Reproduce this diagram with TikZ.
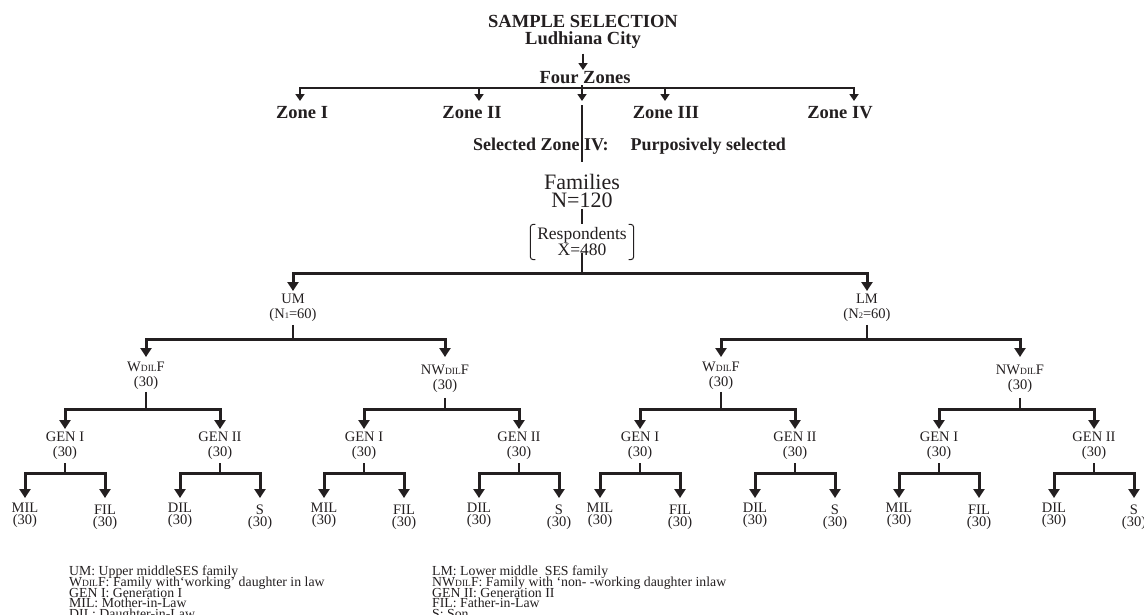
\documentclass[tikz,border=0pt]{standalone}
\usepackage{fontspec}
\setmainfont{Liberation Serif}
\usetikzlibrary{arrows.meta}
\definecolor{inkc}{RGB}{35,31,32}
\newcommand{\dilsc}{{\fontsize{9.5}{9.5}\selectfont DIL}}
\newcommand{\nsub}[1]{{\fontsize{8.5}{8.5}\selectfont #1}}
\newcommand{\tightlines}{\lineskiplimit=-100pt\lineskip=0pt}

\tikzset{
  every node/.style={text=inkc},
  head/.style={font=\bfseries\fontsize{18.5}{17}\selectfont\tightlines, align=center, inner sep=1pt},
  lab/.style={font=\fontsize{14.5}{15}\selectfont\tightlines, align=center, inner xsep=1pt, inner ysep=3pt},
  leaf/.style={font=\fontsize{14.5}{12}\selectfont\tightlines, align=center, inner xsep=1pt, inner ysep=5pt},
  arr/.style={draw=inkc, line width=3pt, -{Triangle[length=9pt,width=11pt]}},
  zarr/.style={draw=inkc, line width=2.6pt, -{Triangle[length=7pt,width=9pt]}},
  stem/.style={draw=inkc, line width=2pt},
  legend/.style={font=\fontsize{13.8}{10.6}\selectfont\tightlines, align=left, anchor=north west, inner sep=0pt}
}

\begin{document}
\begin{tikzpicture}[x=1pt, y=-1pt]
\useasboundingbox (0,0) rectangle (1144,614);

% Title and zones
\node[head, anchor=north] (title) at (583,14) {SAMPLE SELECTION\\Ludhiana City};
\node[head, anchor=north] (fourz) at (585,70) {Four Zones};
\draw[zarr, shorten <=4pt] (title.south) -- (title.south |- fourz.north);
\coordinate (zbar) at (582,88);
\draw[stem] (zbar) -- (zbar |- fourz.south);

\node[head, anchor=north, inner ysep=5pt] (z1) at (302,101) {Zone I};
\node[head, anchor=north, inner ysep=5pt] (z2) at (472,101) {Zone II};
\node[head, anchor=north, inner ysep=5pt] (z3) at (666,101) {Zone III};
\node[head, anchor=north, inner ysep=5pt] (z4) at (840,101) {Zone IV};
\draw[zarr] (zbar) -| ([xshift=-2pt]z1.north);
\draw[zarr] (zbar) -| ([xshift=7pt]z2.north);
\draw[zarr] (zbar) -| ([xshift=-1pt]z3.north);
\draw[zarr] (zbar) -| ([xshift=14pt]z4.north);
\coordinate (ztip) at (582,101);
\draw[zarr] (zbar) -- (ztip);

% Selected zone and sample
\node[head, font=\bfseries\fontsize{18}{17}\selectfont, anchor=west] (selz) at (472,146)
  {Selected Zone IV:\hspace{22pt}Purposively selected};
\node[font=\fontsize{22}{18}\selectfont\tightlines, align=center, anchor=north, inner sep=1pt] (fam) at (582,173)
  {Families\\N=120};
\draw[stem, shorten >=11pt] ([yshift=-4pt]ztip) -- (ztip |- fam.north);
\node[font=\fontsize{17.5}{16}\selectfont\tightlines, align=center, inner sep=0pt,
  minimum width=103pt, minimum height=35pt] (resp) at (582,242) {Respondents\\X=480};
\draw[inkc, line width=1pt, rounded corners=3pt]
  ([xshift=5pt]resp.north west) -- (resp.north west) -- (resp.south west) -- ([xshift=5pt]resp.south west);
\draw[inkc, line width=1pt, rounded corners=3pt]
  ([xshift=-5pt]resp.north east) -- (resp.north east) -- (resp.south east) -- ([xshift=-5pt]resp.south east);
\draw[stem] (fam.south) -- (resp.north);

% UM / LM
\node[lab, anchor=north] (um) at (293,291) {UM\\(N\nsub{1}=60)};
\node[lab, anchor=north] (lm) at (867,291) {LM\\(N\nsub{2}=60)};
\coordinate (rbar) at (582,273);
\draw[stem] ([yshift=-11pt]resp.center) -- (rbar);
\draw[arr] (rbar) -| (um.north);
\draw[arr] (rbar) -| (lm.north);

% Working / non-working families
\node[lab, anchor=north, inner ysep=5pt] (wu) at (146,357) {W\dilsc F\\(30)};
\node[lab, anchor=north, inner ysep=8pt] (nwu) at (445,357) {NW\dilsc F\\(30)};
\node[lab, anchor=north, inner ysep=5pt] (wl) at (721,357) {W\dilsc F\\(30)};
\node[lab, anchor=north, inner ysep=8pt] (nwl) at (1020,357) {NW\dilsc F\\(30)};
\coordinate (umb) at (293,339);
\coordinate (lmb) at (867,339);
\draw[stem] (um.south) -- (umb);
\draw[stem] (lm.south) -- (lmb);
\draw[arr] (umb) -| (wu.north);
\draw[arr] (umb) -| (nwu.north);
\draw[arr] (lmb) -| (wl.north);
\draw[arr] (lmb) -| (nwl.north);

% Generations and members
\foreach \sh/\pn in {0/wu, 299/nwu, 575/wl, 874/nwl} {
  \coordinate (\pn-b) at (146+\sh,409);
  \node[lab, anchor=north] (\pn-g1) at (65+\sh,429) {GEN I\\(30)};
  \node[lab, anchor=north] (\pn-g2) at (220+\sh,429) {GEN II\\(30)};
  \draw[stem, shorten <=-3pt] (\pn.south) -- (\pn-b);
  \draw[arr] (\pn-b) -| (\pn-g1.north);
  \draw[arr] (\pn-b) -| (\pn-g2.north);
  \coordinate (\pn-g1b) at (65+\sh,473);
  \coordinate (\pn-g2b) at (220+\sh,473);
  \node[leaf, anchor=north] (\pn-mil) at (25+\sh,498) {MIL\\(30)};
  \node[leaf, anchor=north, inner ysep=7pt] (\pn-fil) at (105+\sh,498) {FIL\\(30)};
  \node[leaf, anchor=north] (\pn-dil) at (180+\sh,498) {DIL\\(30)};
  \node[leaf, anchor=north, inner ysep=7pt] (\pn-s) at (260+\sh,498) {S\\(30)};
  \draw[stem] (\pn-g1.south) -- (\pn-g1b);
  \draw[stem] (\pn-g2.south) -- (\pn-g2b);
  \draw[arr] (\pn-g1b) -| (\pn-mil.north);
  \draw[arr] (\pn-g1b) -| (\pn-fil.north);
  \draw[arr] (\pn-g2b) -| (\pn-dil.north);
  \draw[arr] (\pn-g2b) -| (\pn-s.north);
}

% Legend
\node[legend] (keyl) at (69,566) {UM: Upper middleSES family\\
  W\dilsc F: Family with‘working’ daughter in law\\
  GEN I: Generation I\\
  MIL: Mother-in-Law\\
  DIL: Daughter-in-Law};
\node[legend] (keyr) at (432,566) {LM: Lower middle\ \ SES family\\
  NW\dilsc F: Family with ‘non- -working daughter inlaw\\
  GEN II: Generation II\\
  FIL: Father-in-Law\\
  S: Son};

\end{tikzpicture}
\end{document}
